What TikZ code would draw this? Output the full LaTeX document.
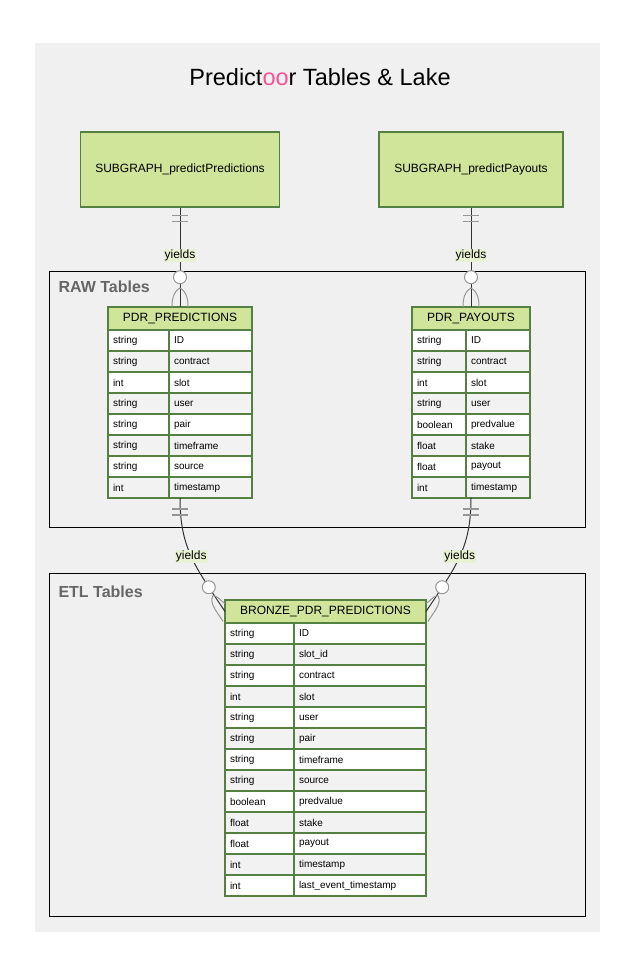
\documentclass[tikz,border=0pt]{standalone}
\usepackage{xcolor}
\usepackage{fontspec}
\setmainfont{Liberation Sans}
\usepackage{tikz}
\usetikzlibrary{calc}

\definecolor{bggray}{RGB}{240,240,240}
\definecolor{boxgreen}{RGB}{208,228,154}
\definecolor{edgegreen}{RGB}{84,128,66}
\definecolor{rowgray}{RGB}{242,242,242}
\definecolor{yieldbg}{RGB}{232,241,212}
\definecolor{pinkoo}{RGB}{255,77,148}
\definecolor{clustertext}{RGB}{102,102,102}
\definecolor{markgray}{RGB}{150,150,150}
\definecolor{linedark}{RGB}{51,51,51}

% name, top left corner, type width, field width, title, rows
\newcommand{\erdtable}[6]{%
	\pgfmathsetmacro{\tw}{#3-10}
	\pgfmathsetmacro{\fw}{#4-10}
	\node[tablehead, minimum width=#3+#4, anchor=north west] (#1) at (#2) {#5};
	\foreach \ty/\fd [count=\i] in {#6}{
		\pgfmathsetmacro{\rw}{int(mod(\i,2))}
		\node[cell, row\rw, text width=\tw pt, anchor=north west] (#1-t\i) at ($(#1.south west)+(0,{(\i-1)*21})$) {\ty};
		\node[cell, row\rw, text width=\fw pt, anchor=north west] (#1-f\i) at (#1-t\i.north east) {\fd};
		\coordinate (#1-end) at ($(#1.south)+(0,{\i*21})$);
	}
}

\begin{document}
\begin{tikzpicture}[x=1pt,y=-1pt,
							subgraph/.style={rectangle,draw=edgegreen,fill=boxgreen,line width=1.3pt,
								minimum height=75,font=\fontsize{12}{14}\selectfont},
							tablehead/.style={rectangle,draw=edgegreen,fill=boxgreen,line width=1.3pt,
								minimum height=23,inner sep=0pt,outer sep=0pt,font=\fontsize{12}{14}\selectfont},
							cell/.style={rectangle,draw=edgegreen,line width=1.3pt,minimum height=21,
								inner xsep=5pt,inner ysep=0pt,outer sep=0pt,align=left,font=\fontsize{10}{12}\selectfont},
							row1/.style={fill=white},
							row0/.style={fill=rowgray},
							cluster/.style={rectangle,draw=black,fill=bggray,line width=0.8pt},
							clusterlabel/.style={anchor=west,text=clustertext,font=\bfseries\fontsize{16}{18}\selectfont},
							link/.style={draw=linedark,line width=1pt},
							yields/.style={fill=yieldbg,inner sep=1pt,font=\fontsize{12}{14}\selectfont},
							ring/.style={circle,draw=markgray,fill=white,line width=1pt,minimum size=13,inner sep=0pt},
							bar/.style={draw=markgray,line width=1.5pt},
							foot/.style={draw=markgray,line width=1pt}]
			\useasboundingbox (0,0) rectangle (635,976);
			\fill[bggray] (35,43) rectangle (600,932);
			\node[font=\fontsize{23.5}{28}\selectfont] (title) at (320,77) {Predict\textcolor{pinkoo}{oo}r Tables \& Lake};

			\node[subgraph, minimum width=199] (spred) at (180,169.5) {SUBGRAPH\_predictPredictions};
			\node[subgraph, minimum width=184] (spay) at (471,169.5) {SUBGRAPH\_predictPayouts};

			\node[cluster, minimum width=536, minimum height=256, anchor=north west] (raw) at (49,271) {};
			\node[clusterlabel] at ($(raw.north west)+(6,16)$) {RAW Tables};
			\node[cluster, minimum width=536, minimum height=343, anchor=north west] (etl) at (49,573) {};
			\node[clusterlabel] at ($(etl.north west)+(6,19)$) {ETL Tables};

			\erdtable{pred}{108,307}{61}{83}{PDR\_PREDICTIONS}
				{string/ID, string/contract, int/slot, string/user, string/pair,
				 string/timeframe, string/source, int/timestamp}
			\erdtable{pay}{412,307}{54}{64}{PDR\_PAYOUTS}
				{string/ID, string/contract, int/slot, string/user, boolean/predvalue,
				 float/stake, float/payout, int/timestamp}
			\erdtable{bronze}{225,600}{69}{132}{BRONZE\_PDR\_PREDICTIONS}
				{string/ID, string/slot\_id, string/contract, int/slot, string/user, string/pair,
				 string/timeframe, string/source, boolean/predvalue, float/stake, float/payout,
				 int/timestamp, int/last\_event\_timestamp}

			% subgraphs to raw tables
			\foreach \s/\t in {spred/pred, spay/pay}
			{
				\draw[link] (\s.south) -- (\t.north)
					node[yields, pos=0.48] {yields}
					node[ring, pos=0.7] {};
				\draw[bar] ($(\s.south)+(-8,8)$) -- +(16,0);
				\draw[bar] ($(\s.south)+(-8,14)$) -- +(16,0);
				\draw[foot] ($(\t.north)+(0,-19)$) .. controls +(-7,4) and +(0,-8) .. ($(\t.north)+(-8,0)$);
				\draw[foot] ($(\t.north)+(0,-19)$) .. controls +(7,4) and +(0,-8) .. ($(\t.north)+(8,0)$);
			}

			% raw tables to bronze
			\draw[link] (pred-end) .. controls +(0,50) and +(-30,-45) .. (bronze.west)
				node[yields, pos=0.5] {yields}
				node[ring, pos=0.8] {};
			\draw[link] (pay-end) .. controls +(0,50) and +(30,-45) .. (bronze.east)
				node[yields, pos=0.5] {yields}
				node[ring, pos=0.8] {};
			\foreach \t in {pred, pay}
			{
				\draw[bar] ($(\t-end)+(-8,11)$) -- +(16,0);
				\draw[bar] ($(\t-end)+(-8,17)$) -- +(16,0);
			}
			\draw[foot] ($(bronze.west)+(-12,-16)$) .. controls +(6,1) and +(-4,-2) .. ($(bronze.west)+(0,-8)$);
			\draw[foot] ($(bronze.west)+(-12,-16)$) .. controls +(-5,8) and +(-3,-6) .. ($(bronze.west)+(-2,10)$);
			\draw[foot] ($(bronze.east)+(12,-16)$) .. controls +(-6,1) and +(4,-2) .. ($(bronze.east)+(0,-8)$);
			\draw[foot] ($(bronze.east)+(12,-16)$) .. controls +(5,8) and +(3,-6) .. ($(bronze.east)+(2,10)$);
		\end{tikzpicture}
\end{document}
